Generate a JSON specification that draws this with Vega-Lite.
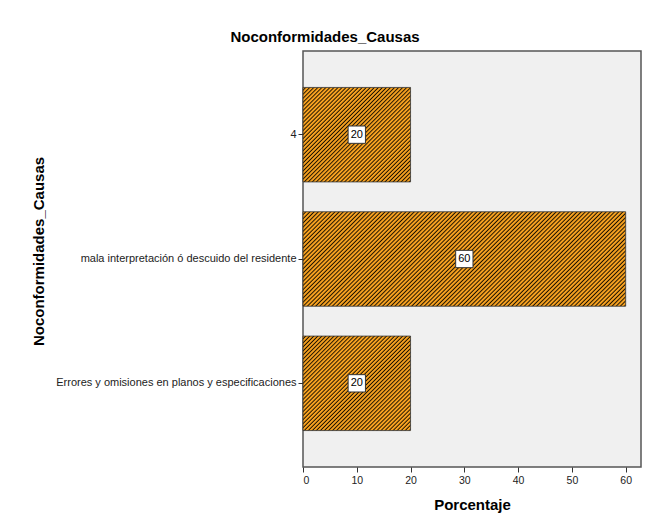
{
  "$schema": "https://vega.github.io/schema/vega-lite/v6.json",
  "width": 338,
  "height": 416,
  "autosize": "none",
  "padding": {"left": 303, "top": 51, "right": 6, "bottom": 56},
  "background": "white",
  "title": {"text": "Noconformidades_Causas", "fontSize": 15, "fontWeight": "bold", "color": "#000", "anchor": "middle", "frame": "group", "dx": -147, "offset": 6},
  "data": {"values": [
    {"causa": "4", "pct": 20},
    {"causa": "mala interpretación ó descuido del residente", "pct": 60},
    {"causa": "Errores y omisiones en planos y especificaciones", "pct": 20}
  ]},
  "encoding": {
    "y": {
      "field": "causa", "type": "nominal",
      "sort": ["4", "mala interpretación ó descuido del residente", "Errores y omisiones en planos y especificaciones"],
      "scale": {"paddingInner": 0.24, "paddingOuter": 0.293},
      "title": "Noconformidades_Causas",
      "axis": {"domain": false, "tickSize": 5, "tickColor": "#333", "labelFontSize": 11, "labelColor": "#222", "labelPadding": 2, "labelLimit": 0, "titleFontSize": 15, "titleFontWeight": "bold", "titleColor": "#000", "titleX": -265, "titleY": 200, "titleBaseline": "middle", "titleAngle": 270}
    }
  },
  "layer": [
    {
      "transform": [{"filter": "datum.pct < 40"}],
      "mark": {"type": "bar", "stroke": "#333", "strokeWidth": 0.8, "fill": {"gradient": "linear", "x1": 0, "y1": 0, "x2": 1.06, "y2": 0.931, "stops": [
{"offset":0,"color":"#f5a020"},{"offset":0.007,"color":"#f5a020"},{"offset":0.014,"color":"#1c1200"},
{"offset":0.02,"color":"#f5a020"},{"offset":0.027,"color":"#f5a020"},{"offset":0.034,"color":"#1c1200"},
{"offset":0.04,"color":"#f5a020"},{"offset":0.047,"color":"#f5a020"},{"offset":0.054,"color":"#1c1200"},
{"offset":0.06,"color":"#f5a020"},{"offset":0.067,"color":"#f5a020"},{"offset":0.074,"color":"#1c1200"},
{"offset":0.08,"color":"#f5a020"},{"offset":0.087,"color":"#f5a020"},{"offset":0.094,"color":"#1c1200"},
{"offset":0.1,"color":"#f5a020"},{"offset":0.107,"color":"#f5a020"},{"offset":0.114,"color":"#1c1200"},
{"offset":0.12,"color":"#f5a020"},{"offset":0.127,"color":"#f5a020"},{"offset":0.134,"color":"#1c1200"},
{"offset":0.14,"color":"#f5a020"},{"offset":0.147,"color":"#f5a020"},{"offset":0.154,"color":"#1c1200"},
{"offset":0.16,"color":"#f5a020"},{"offset":0.167,"color":"#f5a020"},{"offset":0.174,"color":"#1c1200"},
{"offset":0.18,"color":"#f5a020"},{"offset":0.187,"color":"#f5a020"},{"offset":0.194,"color":"#1c1200"},
{"offset":0.2,"color":"#f5a020"},{"offset":0.207,"color":"#f5a020"},{"offset":0.214,"color":"#1c1200"},
{"offset":0.22,"color":"#f5a020"},{"offset":0.227,"color":"#f5a020"},{"offset":0.234,"color":"#1c1200"},
{"offset":0.24,"color":"#f5a020"},{"offset":0.247,"color":"#f5a020"},{"offset":0.254,"color":"#1c1200"},
{"offset":0.26,"color":"#f5a020"},{"offset":0.267,"color":"#f5a020"},{"offset":0.274,"color":"#1c1200"},
{"offset":0.28,"color":"#f5a020"},{"offset":0.287,"color":"#f5a020"},{"offset":0.294,"color":"#1c1200"},
{"offset":0.3,"color":"#f5a020"},{"offset":0.307,"color":"#f5a020"},{"offset":0.314,"color":"#1c1200"},
{"offset":0.32,"color":"#f5a020"},{"offset":0.327,"color":"#f5a020"},{"offset":0.334,"color":"#1c1200"},
{"offset":0.34,"color":"#f5a020"},{"offset":0.347,"color":"#f5a020"},{"offset":0.354,"color":"#1c1200"},
{"offset":0.36,"color":"#f5a020"},{"offset":0.367,"color":"#f5a020"},{"offset":0.374,"color":"#1c1200"},
{"offset":0.38,"color":"#f5a020"},{"offset":0.387,"color":"#f5a020"},{"offset":0.394,"color":"#1c1200"},
{"offset":0.4,"color":"#f5a020"},{"offset":0.407,"color":"#f5a020"},{"offset":0.414,"color":"#1c1200"},
{"offset":0.42,"color":"#f5a020"},{"offset":0.427,"color":"#f5a020"},{"offset":0.434,"color":"#1c1200"},
{"offset":0.44,"color":"#f5a020"},{"offset":0.447,"color":"#f5a020"},{"offset":0.454,"color":"#1c1200"},
{"offset":0.46,"color":"#f5a020"},{"offset":0.467,"color":"#f5a020"},{"offset":0.474,"color":"#1c1200"},
{"offset":0.48,"color":"#f5a020"},{"offset":0.487,"color":"#f5a020"},{"offset":0.494,"color":"#1c1200"},
{"offset":0.5,"color":"#f5a020"},{"offset":0.507,"color":"#f5a020"},{"offset":0.514,"color":"#1c1200"},
{"offset":0.52,"color":"#f5a020"},{"offset":0.527,"color":"#f5a020"},{"offset":0.534,"color":"#1c1200"},
{"offset":0.54,"color":"#f5a020"},{"offset":0.547,"color":"#f5a020"},{"offset":0.554,"color":"#1c1200"},
{"offset":0.56,"color":"#f5a020"},{"offset":0.567,"color":"#f5a020"},{"offset":0.574,"color":"#1c1200"},
{"offset":0.58,"color":"#f5a020"},{"offset":0.587,"color":"#f5a020"},{"offset":0.594,"color":"#1c1200"},
{"offset":0.6,"color":"#f5a020"},{"offset":0.607,"color":"#f5a020"},{"offset":0.614,"color":"#1c1200"},
{"offset":0.62,"color":"#f5a020"},{"offset":0.627,"color":"#f5a020"},{"offset":0.634,"color":"#1c1200"},
{"offset":0.64,"color":"#f5a020"},{"offset":0.647,"color":"#f5a020"},{"offset":0.654,"color":"#1c1200"},
{"offset":0.66,"color":"#f5a020"},{"offset":0.667,"color":"#f5a020"},{"offset":0.674,"color":"#1c1200"},
{"offset":0.68,"color":"#f5a020"},{"offset":0.687,"color":"#f5a020"},{"offset":0.694,"color":"#1c1200"},
{"offset":0.7,"color":"#f5a020"},{"offset":0.707,"color":"#f5a020"},{"offset":0.714,"color":"#1c1200"},
{"offset":0.72,"color":"#f5a020"},{"offset":0.727,"color":"#f5a020"},{"offset":0.734,"color":"#1c1200"},
{"offset":0.74,"color":"#f5a020"},{"offset":0.747,"color":"#f5a020"},{"offset":0.754,"color":"#1c1200"},
{"offset":0.76,"color":"#f5a020"},{"offset":0.767,"color":"#f5a020"},{"offset":0.774,"color":"#1c1200"},
{"offset":0.78,"color":"#f5a020"},{"offset":0.787,"color":"#f5a020"},{"offset":0.794,"color":"#1c1200"},
{"offset":0.8,"color":"#f5a020"},{"offset":0.807,"color":"#f5a020"},{"offset":0.814,"color":"#1c1200"},
{"offset":0.82,"color":"#f5a020"},{"offset":0.827,"color":"#f5a020"},{"offset":0.834,"color":"#1c1200"},
{"offset":0.84,"color":"#f5a020"},{"offset":0.847,"color":"#f5a020"},{"offset":0.854,"color":"#1c1200"},
{"offset":0.86,"color":"#f5a020"},{"offset":0.867,"color":"#f5a020"},{"offset":0.874,"color":"#1c1200"},
{"offset":0.88,"color":"#f5a020"},{"offset":0.887,"color":"#f5a020"},{"offset":0.894,"color":"#1c1200"},
{"offset":0.9,"color":"#f5a020"},{"offset":0.907,"color":"#f5a020"},{"offset":0.914,"color":"#1c1200"},
{"offset":0.92,"color":"#f5a020"},{"offset":0.927,"color":"#f5a020"},{"offset":0.934,"color":"#1c1200"},
{"offset":0.94,"color":"#f5a020"},{"offset":0.947,"color":"#f5a020"},{"offset":0.954,"color":"#1c1200"},
{"offset":0.96,"color":"#f5a020"},{"offset":0.967,"color":"#f5a020"},{"offset":0.974,"color":"#1c1200"},
{"offset":0.98,"color":"#f5a020"},{"offset":0.987,"color":"#f5a020"},{"offset":0.994,"color":"#1c1200"},
{"offset":1,"color":"#f5a020"}]}},
      "encoding": {
        "x": {"field": "pct", "type": "quantitative", "title": "Porcentaje",
          "scale": {"domain": [0, 62.85], "nice": false, "zero": true},
          "axis": {"values": [0, 10, 20, 30, 40, 50, 60], "grid": false, "domain": false, "tickSize": 5, "tickColor": "#333", "labelFontSize": 10.5, "labelColor": "#222", "labelPadding": 3, "titleFontSize": 15, "titleFontWeight": "bold", "titleColor": "#000", "titlePadding": 12}}
      }
    },
    {
      "transform": [{"filter": "datum.pct >= 40"}],
      "mark": {"type": "bar", "stroke": "#333", "strokeWidth": 0.8, "fill": {"gradient": "linear", "x1": 0, "y1": 0, "x2": 1.191, "y2": 0.349, "stops": [
{"offset":0,"color":"#f5a020"},{"offset":0.0035,"color":"#f5a020"},{"offset":0.007,"color":"#1c1200"},
{"offset":0.01,"color":"#f5a020"},{"offset":0.0135,"color":"#f5a020"},{"offset":0.017,"color":"#1c1200"},
{"offset":0.02,"color":"#f5a020"},{"offset":0.0235,"color":"#f5a020"},{"offset":0.027,"color":"#1c1200"},
{"offset":0.03,"color":"#f5a020"},{"offset":0.0335,"color":"#f5a020"},{"offset":0.037,"color":"#1c1200"},
{"offset":0.04,"color":"#f5a020"},{"offset":0.0435,"color":"#f5a020"},{"offset":0.047,"color":"#1c1200"},
{"offset":0.05,"color":"#f5a020"},{"offset":0.0535,"color":"#f5a020"},{"offset":0.057,"color":"#1c1200"},
{"offset":0.06,"color":"#f5a020"},{"offset":0.0635,"color":"#f5a020"},{"offset":0.067,"color":"#1c1200"},
{"offset":0.07,"color":"#f5a020"},{"offset":0.0735,"color":"#f5a020"},{"offset":0.077,"color":"#1c1200"},
{"offset":0.08,"color":"#f5a020"},{"offset":0.0835,"color":"#f5a020"},{"offset":0.087,"color":"#1c1200"},
{"offset":0.09,"color":"#f5a020"},{"offset":0.0935,"color":"#f5a020"},{"offset":0.097,"color":"#1c1200"},
{"offset":0.1,"color":"#f5a020"},{"offset":0.1035,"color":"#f5a020"},{"offset":0.107,"color":"#1c1200"},
{"offset":0.11,"color":"#f5a020"},{"offset":0.1135,"color":"#f5a020"},{"offset":0.117,"color":"#1c1200"},
{"offset":0.12,"color":"#f5a020"},{"offset":0.1235,"color":"#f5a020"},{"offset":0.127,"color":"#1c1200"},
{"offset":0.13,"color":"#f5a020"},{"offset":0.1335,"color":"#f5a020"},{"offset":0.137,"color":"#1c1200"},
{"offset":0.14,"color":"#f5a020"},{"offset":0.1435,"color":"#f5a020"},{"offset":0.147,"color":"#1c1200"},
{"offset":0.15,"color":"#f5a020"},{"offset":0.1535,"color":"#f5a020"},{"offset":0.157,"color":"#1c1200"},
{"offset":0.16,"color":"#f5a020"},{"offset":0.1635,"color":"#f5a020"},{"offset":0.167,"color":"#1c1200"},
{"offset":0.17,"color":"#f5a020"},{"offset":0.1735,"color":"#f5a020"},{"offset":0.177,"color":"#1c1200"},
{"offset":0.18,"color":"#f5a020"},{"offset":0.1835,"color":"#f5a020"},{"offset":0.187,"color":"#1c1200"},
{"offset":0.19,"color":"#f5a020"},{"offset":0.1935,"color":"#f5a020"},{"offset":0.197,"color":"#1c1200"},
{"offset":0.2,"color":"#f5a020"},{"offset":0.2035,"color":"#f5a020"},{"offset":0.207,"color":"#1c1200"},
{"offset":0.21,"color":"#f5a020"},{"offset":0.2135,"color":"#f5a020"},{"offset":0.217,"color":"#1c1200"},
{"offset":0.22,"color":"#f5a020"},{"offset":0.2235,"color":"#f5a020"},{"offset":0.227,"color":"#1c1200"},
{"offset":0.23,"color":"#f5a020"},{"offset":0.2335,"color":"#f5a020"},{"offset":0.237,"color":"#1c1200"},
{"offset":0.24,"color":"#f5a020"},{"offset":0.2435,"color":"#f5a020"},{"offset":0.247,"color":"#1c1200"},
{"offset":0.25,"color":"#f5a020"},{"offset":0.2535,"color":"#f5a020"},{"offset":0.257,"color":"#1c1200"},
{"offset":0.26,"color":"#f5a020"},{"offset":0.2635,"color":"#f5a020"},{"offset":0.267,"color":"#1c1200"},
{"offset":0.27,"color":"#f5a020"},{"offset":0.2735,"color":"#f5a020"},{"offset":0.277,"color":"#1c1200"},
{"offset":0.28,"color":"#f5a020"},{"offset":0.2835,"color":"#f5a020"},{"offset":0.287,"color":"#1c1200"},
{"offset":0.29,"color":"#f5a020"},{"offset":0.2935,"color":"#f5a020"},{"offset":0.297,"color":"#1c1200"},
{"offset":0.3,"color":"#f5a020"},{"offset":0.3035,"color":"#f5a020"},{"offset":0.307,"color":"#1c1200"},
{"offset":0.31,"color":"#f5a020"},{"offset":0.3135,"color":"#f5a020"},{"offset":0.317,"color":"#1c1200"},
{"offset":0.32,"color":"#f5a020"},{"offset":0.3235,"color":"#f5a020"},{"offset":0.327,"color":"#1c1200"},
{"offset":0.33,"color":"#f5a020"},{"offset":0.3335,"color":"#f5a020"},{"offset":0.337,"color":"#1c1200"},
{"offset":0.34,"color":"#f5a020"},{"offset":0.3435,"color":"#f5a020"},{"offset":0.347,"color":"#1c1200"},
{"offset":0.35,"color":"#f5a020"},{"offset":0.3535,"color":"#f5a020"},{"offset":0.357,"color":"#1c1200"},
{"offset":0.36,"color":"#f5a020"},{"offset":0.3635,"color":"#f5a020"},{"offset":0.367,"color":"#1c1200"},
{"offset":0.37,"color":"#f5a020"},{"offset":0.3735,"color":"#f5a020"},{"offset":0.377,"color":"#1c1200"},
{"offset":0.38,"color":"#f5a020"},{"offset":0.3835,"color":"#f5a020"},{"offset":0.387,"color":"#1c1200"},
{"offset":0.39,"color":"#f5a020"},{"offset":0.3935,"color":"#f5a020"},{"offset":0.397,"color":"#1c1200"},
{"offset":0.4,"color":"#f5a020"},{"offset":0.4035,"color":"#f5a020"},{"offset":0.407,"color":"#1c1200"},
{"offset":0.41,"color":"#f5a020"},{"offset":0.4135,"color":"#f5a020"},{"offset":0.417,"color":"#1c1200"},
{"offset":0.42,"color":"#f5a020"},{"offset":0.4235,"color":"#f5a020"},{"offset":0.427,"color":"#1c1200"},
{"offset":0.43,"color":"#f5a020"},{"offset":0.4335,"color":"#f5a020"},{"offset":0.437,"color":"#1c1200"},
{"offset":0.44,"color":"#f5a020"},{"offset":0.4435,"color":"#f5a020"},{"offset":0.447,"color":"#1c1200"},
{"offset":0.45,"color":"#f5a020"},{"offset":0.4535,"color":"#f5a020"},{"offset":0.457,"color":"#1c1200"},
{"offset":0.46,"color":"#f5a020"},{"offset":0.4635,"color":"#f5a020"},{"offset":0.467,"color":"#1c1200"},
{"offset":0.47,"color":"#f5a020"},{"offset":0.4735,"color":"#f5a020"},{"offset":0.477,"color":"#1c1200"},
{"offset":0.48,"color":"#f5a020"},{"offset":0.4835,"color":"#f5a020"},{"offset":0.487,"color":"#1c1200"},
{"offset":0.49,"color":"#f5a020"},{"offset":0.4935,"color":"#f5a020"},{"offset":0.497,"color":"#1c1200"},
{"offset":0.5,"color":"#f5a020"},{"offset":0.5035,"color":"#f5a020"},{"offset":0.507,"color":"#1c1200"},
{"offset":0.51,"color":"#f5a020"},{"offset":0.5135,"color":"#f5a020"},{"offset":0.517,"color":"#1c1200"},
{"offset":0.52,"color":"#f5a020"},{"offset":0.5235,"color":"#f5a020"},{"offset":0.527,"color":"#1c1200"},
{"offset":0.53,"color":"#f5a020"},{"offset":0.5335,"color":"#f5a020"},{"offset":0.537,"color":"#1c1200"},
{"offset":0.54,"color":"#f5a020"},{"offset":0.5435,"color":"#f5a020"},{"offset":0.547,"color":"#1c1200"},
{"offset":0.55,"color":"#f5a020"},{"offset":0.5535,"color":"#f5a020"},{"offset":0.557,"color":"#1c1200"},
{"offset":0.56,"color":"#f5a020"},{"offset":0.5635,"color":"#f5a020"},{"offset":0.567,"color":"#1c1200"},
{"offset":0.57,"color":"#f5a020"},{"offset":0.5735,"color":"#f5a020"},{"offset":0.577,"color":"#1c1200"},
{"offset":0.58,"color":"#f5a020"},{"offset":0.5835,"color":"#f5a020"},{"offset":0.587,"color":"#1c1200"},
{"offset":0.59,"color":"#f5a020"},{"offset":0.5935,"color":"#f5a020"},{"offset":0.597,"color":"#1c1200"},
{"offset":0.6,"color":"#f5a020"},{"offset":0.6035,"color":"#f5a020"},{"offset":0.607,"color":"#1c1200"},
{"offset":0.61,"color":"#f5a020"},{"offset":0.6135,"color":"#f5a020"},{"offset":0.617,"color":"#1c1200"},
{"offset":0.62,"color":"#f5a020"},{"offset":0.6235,"color":"#f5a020"},{"offset":0.627,"color":"#1c1200"},
{"offset":0.63,"color":"#f5a020"},{"offset":0.6335,"color":"#f5a020"},{"offset":0.637,"color":"#1c1200"},
{"offset":0.64,"color":"#f5a020"},{"offset":0.6435,"color":"#f5a020"},{"offset":0.647,"color":"#1c1200"},
{"offset":0.65,"color":"#f5a020"},{"offset":0.6535,"color":"#f5a020"},{"offset":0.657,"color":"#1c1200"},
{"offset":0.66,"color":"#f5a020"},{"offset":0.6635,"color":"#f5a020"},{"offset":0.667,"color":"#1c1200"},
{"offset":0.67,"color":"#f5a020"},{"offset":0.6735,"color":"#f5a020"},{"offset":0.677,"color":"#1c1200"},
{"offset":0.68,"color":"#f5a020"},{"offset":0.6835,"color":"#f5a020"},{"offset":0.687,"color":"#1c1200"},
{"offset":0.69,"color":"#f5a020"},{"offset":0.6935,"color":"#f5a020"},{"offset":0.697,"color":"#1c1200"},
{"offset":0.7,"color":"#f5a020"},{"offset":0.7035,"color":"#f5a020"},{"offset":0.707,"color":"#1c1200"},
{"offset":0.71,"color":"#f5a020"},{"offset":0.7135,"color":"#f5a020"},{"offset":0.717,"color":"#1c1200"},
{"offset":0.72,"color":"#f5a020"},{"offset":0.7235,"color":"#f5a020"},{"offset":0.727,"color":"#1c1200"},
{"offset":0.73,"color":"#f5a020"},{"offset":0.7335,"color":"#f5a020"},{"offset":0.737,"color":"#1c1200"},
{"offset":0.74,"color":"#f5a020"},{"offset":0.7435,"color":"#f5a020"},{"offset":0.747,"color":"#1c1200"},
{"offset":0.75,"color":"#f5a020"},{"offset":0.7535,"color":"#f5a020"},{"offset":0.757,"color":"#1c1200"},
{"offset":0.76,"color":"#f5a020"},{"offset":0.7635,"color":"#f5a020"},{"offset":0.767,"color":"#1c1200"},
{"offset":0.77,"color":"#f5a020"},{"offset":0.7735,"color":"#f5a020"},{"offset":0.777,"color":"#1c1200"},
{"offset":0.78,"color":"#f5a020"},{"offset":0.7835,"color":"#f5a020"},{"offset":0.787,"color":"#1c1200"},
{"offset":0.79,"color":"#f5a020"},{"offset":0.7935,"color":"#f5a020"},{"offset":0.797,"color":"#1c1200"},
{"offset":0.8,"color":"#f5a020"},{"offset":0.8035,"color":"#f5a020"},{"offset":0.807,"color":"#1c1200"},
{"offset":0.81,"color":"#f5a020"},{"offset":0.8135,"color":"#f5a020"},{"offset":0.817,"color":"#1c1200"},
{"offset":0.82,"color":"#f5a020"},{"offset":0.8235,"color":"#f5a020"},{"offset":0.827,"color":"#1c1200"},
{"offset":0.83,"color":"#f5a020"},{"offset":0.8335,"color":"#f5a020"},{"offset":0.837,"color":"#1c1200"},
{"offset":0.84,"color":"#f5a020"},{"offset":0.8435,"color":"#f5a020"},{"offset":0.847,"color":"#1c1200"},
{"offset":0.85,"color":"#f5a020"},{"offset":0.8535,"color":"#f5a020"},{"offset":0.857,"color":"#1c1200"},
{"offset":0.86,"color":"#f5a020"},{"offset":0.8635,"color":"#f5a020"},{"offset":0.867,"color":"#1c1200"},
{"offset":0.87,"color":"#f5a020"},{"offset":0.8735,"color":"#f5a020"},{"offset":0.877,"color":"#1c1200"},
{"offset":0.88,"color":"#f5a020"},{"offset":0.8835,"color":"#f5a020"},{"offset":0.887,"color":"#1c1200"},
{"offset":0.89,"color":"#f5a020"},{"offset":0.8935,"color":"#f5a020"},{"offset":0.897,"color":"#1c1200"},
{"offset":0.9,"color":"#f5a020"},{"offset":0.9035,"color":"#f5a020"},{"offset":0.907,"color":"#1c1200"},
{"offset":0.91,"color":"#f5a020"},{"offset":0.9135,"color":"#f5a020"},{"offset":0.917,"color":"#1c1200"},
{"offset":0.92,"color":"#f5a020"},{"offset":0.9235,"color":"#f5a020"},{"offset":0.927,"color":"#1c1200"},
{"offset":0.93,"color":"#f5a020"},{"offset":0.9335,"color":"#f5a020"},{"offset":0.937,"color":"#1c1200"},
{"offset":0.94,"color":"#f5a020"},{"offset":0.9435,"color":"#f5a020"},{"offset":0.947,"color":"#1c1200"},
{"offset":0.95,"color":"#f5a020"},{"offset":0.9535,"color":"#f5a020"},{"offset":0.957,"color":"#1c1200"},
{"offset":0.96,"color":"#f5a020"},{"offset":0.9635,"color":"#f5a020"},{"offset":0.967,"color":"#1c1200"},
{"offset":0.97,"color":"#f5a020"},{"offset":0.9735,"color":"#f5a020"},{"offset":0.977,"color":"#1c1200"},
{"offset":0.98,"color":"#f5a020"},{"offset":0.9835,"color":"#f5a020"},{"offset":0.987,"color":"#1c1200"},
{"offset":0.99,"color":"#f5a020"},{"offset":0.9935,"color":"#f5a020"},{"offset":0.997,"color":"#1c1200"},
{"offset":1,"color":"#f5a020"}]}},
      "encoding": {
        "x": {"field": "pct", "type": "quantitative", "title": "Porcentaje"}
      }
    },
    {
      "transform": [{"calculate": "datum.pct / 2", "as": "mid"}],
      "mark": {"type": "point", "shape": "square", "filled": true, "fill": "white", "stroke": "#333", "strokeWidth": 1, "size": 300, "opacity": 1},
      "encoding": {
        "x": {"field": "mid", "type": "quantitative", "title": "Porcentaje"}
      }
    },
    {
      "transform": [{"calculate": "datum.pct / 2", "as": "mid"}],
      "mark": {"type": "text", "fontSize": 11, "color": "#000", "align": "center", "baseline": "middle"},
      "encoding": {
        "x": {"field": "mid", "type": "quantitative", "title": "Porcentaje"},
        "text": {"field": "pct", "type": "quantitative"}
      }
    }
  ],
  "config": {
    "font": "Liberation Sans",
    "view": {"fill": "#F0F0F0", "stroke": "#555", "strokeWidth": 1.5}
  }
}
